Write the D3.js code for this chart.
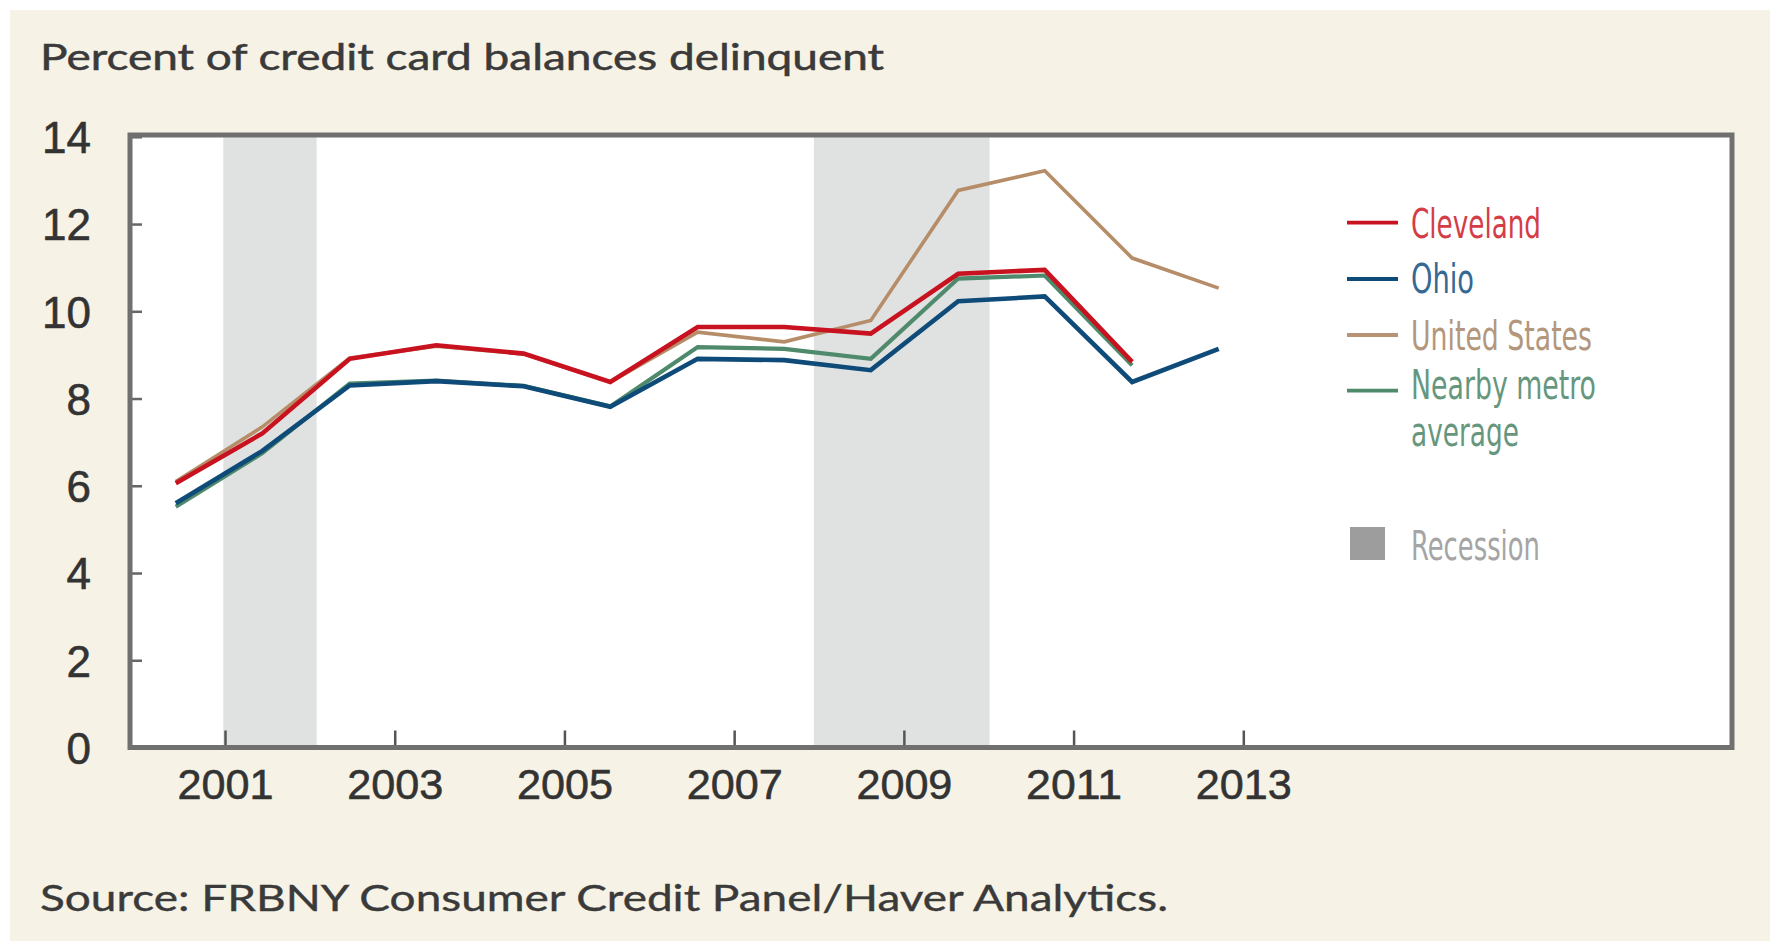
<!DOCTYPE html>
<html>
<head>
<meta charset="utf-8">
<script src="https://cdn.jsdelivr.net/npm/d3@7"></script>
<style>
  html, body { margin: 0; padding: 0; background: #ffffff; }
  svg { display: block; }
</style>
</head>
<body>
<svg id="chart" width="1770" height="941"></svg>
<script>
// ---------------- data ----------------
const pointDates = [2000.42, 2001.44, 2002.47, 2003.49, 2004.52, 2005.54, 2006.57, 2007.59, 2008.61, 2009.64, 2010.66, 2011.69, 2012.71];
const cleveland = [6.06, 7.2, 8.91, 9.22, 9.03, 8.38, 9.64, 9.64, 9.49, 10.86, 10.95, 8.84];
const ohio      = [5.60, 6.8, 8.30, 8.40, 8.28, 7.81, 8.91, 8.88, 8.65, 10.23, 10.34, 8.38, 9.14];
const unitedStates = [6.1, 7.35, 8.93, 9.2, 9.02, 8.38, 9.52, 9.30, 9.79, 12.77, 13.22, 11.22, 10.53];
const nearbyMetro  = [5.52, 6.75, 8.34, 8.41, 8.29, 7.82, 9.18, 9.14, 8.91, 10.75, 10.82, 8.76];
const recessions = [[2000.98, 2002.08], [2007.94, 2010.01]];
const xTickYears = [2001, 2003, 2005, 2007, 2009, 2011, 2013];
const yTickValues = [0, 2, 4, 6, 8, 10, 12, 14];
const titleText = "Percent of credit card balances delinquent";
const sourceText = "Source: FRBNY Consumer Credit Panel/Haver Analytics.";

const seriesList = [
  { name: "United States", values: unitedStates, color: "#b68d69", width: 3.6 },
  { name: "Nearby metro average", values: nearbyMetro, color: "#4f8a6c", width: 4.2 },
  { name: "Ohio", values: ohio, color: "#0f4b79", width: 4.6 },
  { name: "Cleveland", values: cleveland, color: "#c8121f", width: 4.6 }
];

// ---------------- layout ----------------
const svg = d3.select("#chart");
const frame = { left: 130, right: 1732, top: 135, bottom: 747.5 };

svg.append("rect").attr("x", 10).attr("y", 10).attr("width", 1760).attr("height", 931).attr("fill", "#f6f2e5");

const x = d3.scaleLinear().domain([2001, 2013]).range([225, 1243.3]);
const y = d3.scaleLinear().domain([0, 14]).range([747.5, 136.8]);

// plot background
svg.append("rect")
  .attr("x", frame.left).attr("y", frame.top)
  .attr("width", frame.right - frame.left).attr("height", frame.bottom - frame.top)
  .attr("fill", "#ffffff");

// recession bands
svg.append("g").selectAll("rect").data(recessions).join("rect")
  .attr("x", d => x(d[0]))
  .attr("width", d => x(d[1]) - x(d[0]))
  .attr("y", frame.top)
  .attr("height", frame.bottom - frame.top)
  .attr("fill", "#e0e1e1");

// x axis ticks (inward)
const xAxis = d3.axisBottom(x).tickValues(xTickYears).tickFormat(d3.format("d")).tickSize(-17).tickPadding(34);
const gx = svg.append("g").attr("transform", `translate(0,${frame.bottom})`).call(xAxis);
gx.select(".domain").remove();
gx.selectAll(".tick line").attr("stroke", "#555555").attr("stroke-width", 2.5);
gx.selectAll(".tick text")
  .attr("fill", "#333333")
  .attr("stroke", "#333333").attr("stroke-width", 0.6)
  .attr("font-family", "'Liberation Sans', Arial, sans-serif")
  .attr("font-size", 43)
  .attr("y", 51)
  .attr("dy", 0)
  .attr("textLength", 96)
  .attr("lengthAdjust", "spacingAndGlyphs");

// y axis ticks (inward) and labels
const yAxis = d3.axisLeft(y).tickValues(yTickValues).tickFormat(d3.format("d")).tickSize(-12).tickPadding(39);
const gy = svg.append("g").attr("transform", `translate(${frame.left},0)`).call(yAxis);
gy.select(".domain").remove();
gy.selectAll(".tick line").attr("stroke", "#666666").attr("stroke-width", 2.5);
gy.selectAll(".tick text")
  .attr("fill", "#333333")
  .attr("stroke", "#333333").attr("stroke-width", 0.6)
  .attr("font-family", "'Liberation Sans', Arial, sans-serif")
  .attr("font-size", 44)
  .attr("dy", "0.36em");

// lines
const line = d3.line().x((d, i) => x(pointDates[i])).y(d => y(d));
svg.append("g").selectAll("path").data(seriesList).join("path")
  .attr("d", s => line(s.values))
  .attr("fill", "none")
  .attr("stroke", s => s.color)
  .attr("stroke-width", s => s.width)
  .attr("stroke-linejoin", "miter");

// frame
svg.append("rect")
  .attr("x", frame.left).attr("y", frame.top)
  .attr("width", frame.right - frame.left).attr("height", frame.bottom - frame.top)
  .attr("fill", "none").attr("stroke", "#707070").attr("stroke-width", 5);

// title & source
svg.append("text").text(titleText)
  .attr("x", 40).attr("y", 70)
  .attr("font-family", "Lato, 'Liberation Sans', sans-serif")
  .attr("font-size", 36).attr("fill", "#3a3a3a")
  .attr("stroke", "#3a3a3a").attr("stroke-width", 0.5)
  .attr("textLength", 844).attr("lengthAdjust", "spacingAndGlyphs");

svg.append("text").text(sourceText)
  .attr("x", 40).attr("y", 911)
  .attr("font-family", "Lato, 'Liberation Sans', sans-serif")
  .attr("font-size", 37).attr("fill", "#3a3a3a")
  .attr("stroke", "#3a3a3a").attr("stroke-width", 0.4)
  .attr("textLength", 1128).attr("lengthAdjust", "spacingAndGlyphs");

// legend
const legendItems = [
  { lines: ["Cleveland"], color: "#c8121f", text: "#d43d48", lineY: 222.7, baselines: [238], widths: [130] },
  { lines: ["Ohio"], color: "#0f4b79", text: "#356892", lineY: 279, baselines: [293], widths: [63] },
  { lines: ["United States"], color: "#b89474", text: "#b3977c", lineY: 335, baselines: [350], widths: [181] },
  { lines: ["Nearby metro", "average"], color: "#4f8a6c", text: "#66977e", lineY: 390.7, baselines: [399, 446], widths: [185, 108] }
];
const lg = svg.append("g");
legendItems.forEach(it => {
  lg.append("line")
    .attr("x1", 1347).attr("x2", 1398)
    .attr("y1", it.lineY).attr("y2", it.lineY)
    .attr("stroke", it.color).attr("stroke-width", 3.8);
  it.lines.forEach((t, j) => {
    lg.append("text").text(t)
      .attr("x", 1411).attr("y", it.baselines[j])
      .attr("font-family", "'Liberation Sans Narrow', 'DejaVu Sans Condensed', sans-serif")
      .attr("font-size", 41).attr("fill", it.text)
      .attr("textLength", it.widths[j]).attr("lengthAdjust", "spacingAndGlyphs");
  });
});
lg.append("rect").attr("x", 1350).attr("y", 527).attr("width", 35).attr("height", 33).attr("fill", "#9d9d9d");
lg.append("text").text("Recession")
  .attr("x", 1411).attr("y", 560)
  .attr("font-family", "'Liberation Sans Narrow', 'DejaVu Sans Condensed', sans-serif")
  .attr("font-size", 41).attr("fill", "#a5a5a5")
  .attr("textLength", 129).attr("lengthAdjust", "spacingAndGlyphs");
</script>
</body>
</html>
